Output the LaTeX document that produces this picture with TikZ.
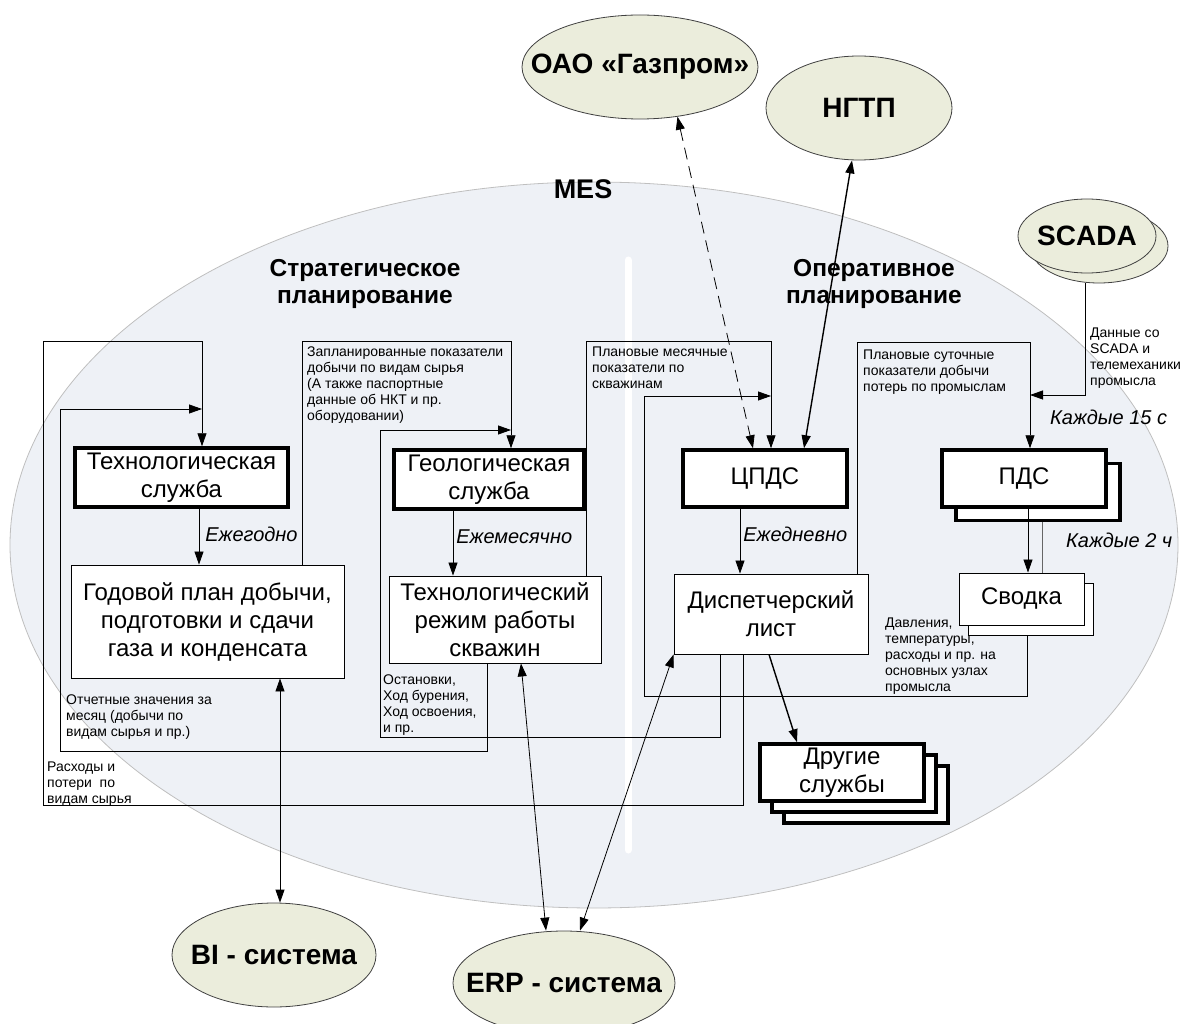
\documentclass[tikz,border=0pt]{standalone}
\usepackage{fontspec}
\setmainfont{Liberation Sans}
\usetikzlibrary{shapes.geometric,arrows.meta}
\definecolor{mesfill}{HTML}{EEF1F6}
\definecolor{extfill}{HTML}{EBEDDC}

\begin{document}
\begin{tikzpicture}[x=1pt, y=-1pt,
  tip/.style={-{Triangle[length=13pt,width=9pt]}, line width=0.8pt},
  dtip/.style={{Triangle[length=13pt,width=9pt]}-{Triangle[length=13pt,width=9pt]}, line width=0.8pt},
  box/.style={draw, fill=white, line width=0.9pt, inner sep=0pt, align=center, font=\fontsize{24}{28}\selectfont},
  tbox/.style={box, line width=3.5pt},
  ext/.style={ellipse, draw=black!75, fill=extfill, line width=0.8pt, inner sep=0pt,
    label={[font=\fontsize{28}{32}\selectfont\bfseries]center:#1}},
  note/.style={anchor=north west, inner sep=0pt, align=left, font=\fontsize{14}{16}\selectfont},
  freq/.style={anchor=west, inner sep=0pt, font=\fontsize{20}{24}\selectfont\itshape},
  hdr/.style={align=center, inner sep=0pt, font=\fontsize{24.5}{27}\selectfont\bfseries}]
	\useasboundingbox (0,0) rectangle (1184,1024);
	\clip (0,0) rectangle (1184,1024);

	% MES
	\node[ellipse, draw=black!25, fill=mesfill, line width=0.8pt, inner sep=0pt, minimum width=1168pt, minimum height=726pt] (mes) at (594,545) {};
	\draw[white, line width=7pt, line cap=round] (628,260) -- (628,850);
	\node[hdr, font=\fontsize{27}{30}\selectfont\bfseries] (mes_label) at (583,189) {MES};
	\node[hdr] (strat) at (365,284) {Стратегическое\\планирование};
	\node[hdr] (oper) at (874,284) {Оперативное\\планирование};

	% boxes
	\node[tbox, minimum width=213pt, minimum height=59pt] (tech) at (181.5,477.5) {Технологическая\\служба};
	\node[box, minimum width=273pt, minimum height=113pt] (plan) at (207.5,621.5) {Годовой план добычи,\\подготовки и сдачи\\газа и конденсата};
	\node[tbox, minimum width=190pt, minimum height=59pt] (geol) at (489,479.5) {Геологическая\\служба};
	\node[box, minimum width=212pt, minimum height=87pt] (rezhim) at (495,619.5) {Технологический\\режим работы\\скважин};
	\node[tbox, minimum width=164pt, minimum height=57pt] (cpds) at (765,478.5) {ЦПДС};
	\node[tbox, minimum width=164pt, minimum height=57pt] (pdsB) at (1038,492) {};
	\node[tbox, minimum width=164pt, minimum height=57pt] (pds) at (1024,478.5) {ПДС};
	\node[box, minimum width=194pt, minimum height=80pt] (disp) at (771,614) {Диспетчерский\\лист};
	\node[box, minimum width=125pt, minimum height=52pt] (svodkaB) at (1030.5,609.5) {};
	\node[box, minimum width=125pt, minimum height=52pt] (svodka) at (1021.5,599) {Сводка};
	\node[tbox, minimum width=164pt, minimum height=57pt] (drugC) at (866,794.5) {};
	\node[tbox, minimum width=164pt, minimum height=57pt] (drugB) at (854,783.5) {};
	\node[tbox, minimum width=164pt, minimum height=57pt] (drug) at (842,772.5) {Другие\\службы};

	% outer systems
	\node[ext=ОАО «Газпром», minimum width=236pt, minimum height=104pt] (oao) at (640,67) {};
	\node[ext=НГТП, minimum width=186pt, minimum height=104pt] (ngtp) at (859,108) {};
	\node[ext={}, minimum width=138pt, minimum height=74pt] (scadaB) at (1099,246) {};
	\node[ext=SCADA, minimum width=138pt, minimum height=74pt] (scada) at (1087,236) {};
	\node[ext=BI - система, minimum width=204pt, minimum height=104pt] (bi) at (274,955) {};
	\node[ext=ERP - система, minimum width=222pt, minimum height=104pt] (erp) at (564,983) {};

	% bends
	\coordinate (r1) at (743,805); \coordinate (r2) at (43,805); \coordinate (r3) at (43,341); \coordinate (r4) at (202,341);
	\coordinate (o1) at (487,751); \coordinate (o2) at (60,751); \coordinate (o3) at (60,409); \coordinate (o4) at (202,409);
	\coordinate (z1) at (302,341); \coordinate (z2) at (511,341);
	\coordinate (s1) at (720,737); \coordinate (s2) at (380,737); \coordinate (s3) at (380,430); \coordinate (s4) at (511,430);
	\coordinate (m1) at (586,341); \coordinate (m2) at (771,341);
	\coordinate (d1) at (1027,696); \coordinate (d2) at (644,696); \coordinate (d3) at (644,396); \coordinate (d4) at (771,396);
	\coordinate (u1) at (857,342); \coordinate (u2) at (1030,342);
	\coordinate (c1) at (1085,395); \coordinate (c2) at (1030,395);
	\coordinate (p1) at (1028,0); \coordinate (p2) at (1042,0);

	\draw[tip] (disp.south -| r1) -- (r1) -- (r2) -- (r3) -- (r4) -- (tech.north -| r4);
	\draw[tip] (rezhim.south -| o1) -- (o1) -- (o2) -- (o3) -- (o4);
	\draw[tip] (plan.north -| z1) -- (z1) -- (z2) -- (geol.north -| z2);
	\draw[tip] (disp.south -| s1) -- (s1) -- (s2) -- (s3) -- (s4);
	\draw[tip] (rezhim.north -| m1) -- (m1) -- (m2) -- (cpds.north -| m2);
	\draw[tip] (svodkaB.south -| d1) -- (d1) -- (d2) -- (d3) -- (d4);
	\draw[tip] (disp.north -| u1) -- (u1) -- (u2) -- (pds.north -| u2);
	\draw[tip] (scadaB.south -| c1) -- (c1) -- (c2);

	\path[tip] ([xshift=17.5pt]tech.south) edge node[freq, pos=0.45, xshift=6pt] {Ежегодно} ([xshift=17.5pt]tech.south |- plan.north);
	\path[tip] ([xshift=-36pt]geol.south) edge node[freq, pos=0.4, xshift=3pt] {Ежемесячно} ([xshift=-36pt]geol.south |- rezhim.north);
	\path[tip] ([xshift=-25pt]cpds.south) edge node[freq, pos=0.4, xshift=3pt] {Ежедневно} ([xshift=-25pt]cpds.south |- disp.north);
	\path[tip] (pds.south -| p1) edge (svodka.north -| p1);
	\draw[black!60, line width=0.8pt] (pdsB.south -| p2) -- (svodka.north -| p2);
	\path[tip, line width=1.4pt] ([xshift=-2pt]disp.south) edge ([xshift=-45pt]drug.north);

	\path[dtip] ([xshift=72.5pt]plan.south) edge ([xshift=6pt]bi.north);
	\path[dtip] ([xshift=-18pt]erp.north) edge ([xshift=26pt]rezhim.south);
	\path[dtip] ([xshift=16pt]erp.north) edge (disp.south west);
	\path[dtip, line width=1.4pt] ([xshift=-7pt]ngtp.south) edge ([xshift=39pt]cpds.north);
	\path[dtip, dash pattern=on 12pt off 7pt] (oao.-53) edge ([xshift=-12pt]cpds.north);

	% labels
	\node[freq] (k15) at (1050,417) {Каждые 15 с};
	\node[freq] (k2) at (1066,540) {Каждые 2 ч};
	\node[note] (zap_label) at (307,347) {Запланированные показатели\\добычи по видам сырья\\(А также паспортные\\данные об НКТ и пр.\\оборудовании)};
	\node[note] (mes_plan) at (592,347) {Плановые месячные\\показатели по\\скважинам};
	\node[note] (sut_plan) at (863,350) {Плановые суточные\\показатели добычи\\потерь по промыслам};
	\node[note] (scada_data) at (1090,328) {Данные со\\SCADA и\\телемеханики\\промысла};
	\node[note] (dav_label) at (885,618) {Давления,\\температуры,\\расходы и пр. на\\основных узлах\\промысла};
	\node[note] (ost_label) at (383,675) {Остановки,\\Ход бурения,\\Ход освоения,\\и пр.};
	\node[note] (otch_label) at (66,695) {Отчетные значения за\\месяц (добычи по\\видам сырья и пр.)};
	\node[note] (rash_label) at (47,762) {Расходы и\\потери~~по\\видам сырья};
\end{tikzpicture}
\end{document}
